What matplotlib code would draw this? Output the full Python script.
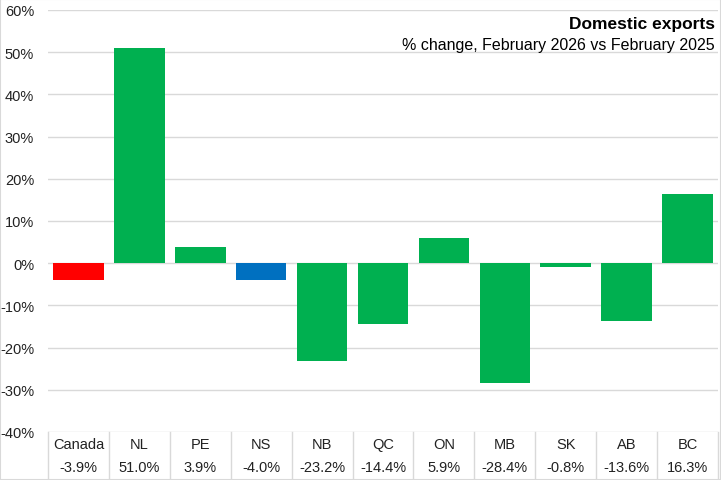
import matplotlib
matplotlib.use("Agg")
import matplotlib.pyplot as plt
from matplotlib.patches import Rectangle
from matplotlib.lines import Line2D

categories = ["Canada", "NL", "PE", "NS", "NB", "QC", "ON", "MB", "SK", "AB", "BC"]
values = [-3.9, 51.0, 3.9, -4.0, -23.2, -14.4, 5.9, -28.4, -0.8, -13.6, 16.3]
colors = ["#FF0000", "#00B050", "#00B050", "#0070C0", "#00B050", "#00B050",
          "#00B050", "#00B050", "#00B050", "#00B050", "#00B050"]
yticks = [-40, -30, -20, -10, 0, 10, 20, 30, 40, 50, 60]
title = "Domestic exports"
subtitle = "% change, February 2026 vs February 2025"

plt.rcParams["font.family"] = ["Liberation Sans", "DejaVu Sans"]
W, H = 721, 481
fig = plt.figure(figsize=(W / 100, H / 100), dpi=100)
left, right, top, bottom = 48, 718, 11, 433
ax = fig.add_axes([left / W, 1 - bottom / H, (right - left) / W, (bottom - top) / H])

n = len(categories)
x = list(range(n))
ax.bar(x, values, width=0.83, color=colors, zorder=3)
ax.set_xlim(-0.5, n - 0.5)
ax.set_ylim(-40, 60)
ax.set_yticks(yticks)
ax.set_yticklabels([f"{t}%" for t in yticks], fontsize=10.5, color="#222222")
ax.tick_params(axis="y", length=0, pad=10)
ax.set_xticks([])
ax.grid(axis="y", color="#D9D9D9", linewidth=1, zorder=0)
for s in ax.spines.values():
    s.set_visible(False)

# table below
trans = ax.get_xaxis_transform()
y_bottom_ax = -(H - bottom) / (bottom - top)
for i, (c, v) in enumerate(zip(categories, values)):
    ax.text(i, -12 / (bottom - top), c, transform=trans, ha="center", va="center",
            fontsize=10.5, color="#222222")
    ax.text(i, -35 / (bottom - top), f"{v:.1f}%", transform=trans, ha="center",
            va="center", fontsize=10.5, color="#222222")
for i in range(n + 1):
    ax.add_line(Line2D([i - 0.5, i - 0.5], [0, y_bottom_ax], transform=trans,
                       color="#D9D9D9", linewidth=1, clip_on=False))

ax.text(0.995, 0.985, title, transform=ax.transAxes, ha="right", va="top",
        fontsize=12.5, fontweight="bold", color="#000000")
ax.text(0.995, 0.935, subtitle, transform=ax.transAxes, ha="right", va="top",
        fontsize=11.5, color="#000000")

fig.patches.append(Rectangle((0, 0), 1, 1, transform=fig.transFigure, fill=False,
                             edgecolor="#D9D9D9", linewidth=1.5))
fig.savefig("out.png", dpi=100)
